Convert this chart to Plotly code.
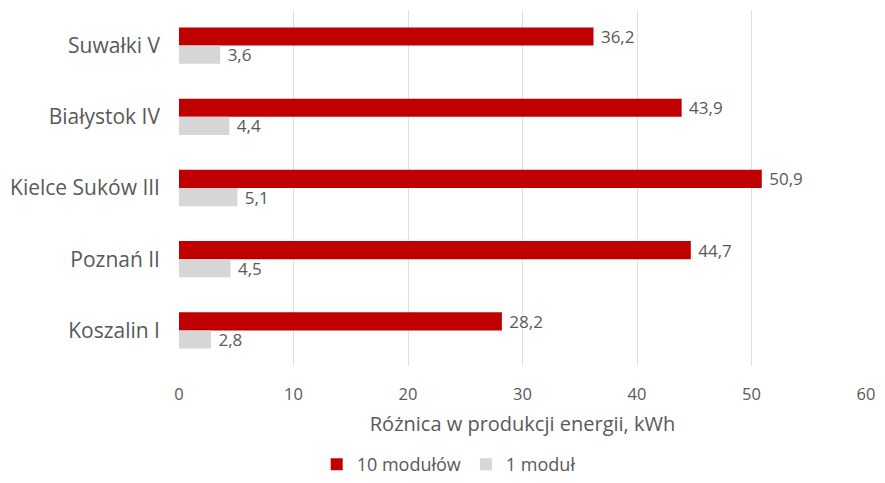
import plotly.graph_objects as go

categories = ["Suwałki V", "Białystok IV", "Kielce Suków III", "Poznań II", "Koszalin I"]
vals_10 = [36.2, 43.9, 50.9, 44.7, 28.2]
vals_1 = [3.6, 4.4, 5.1, 4.5, 2.8]
series_names = ["10 modułów", "1 moduł"]
x_title = "Różnica w produkcji energii, kWh"

FONT = "Open Sans"
TXT = "#595959"

def fmt(v):
    return "\u00a0" + f"{v:.1f}".replace(".", ",")

fig = go.Figure()
fig.add_trace(go.Bar(
    y=categories, x=vals_10, orientation="h", name=series_names[0],
    marker=dict(color="#C00000", line=dict(width=0)),
    text=[fmt(v) for v in vals_10], textposition="outside", constraintext="none",
    textfont=dict(family=FONT, size=17, color=TXT), cliponaxis=False,
))
fig.add_trace(go.Bar(
    y=categories, x=vals_1, orientation="h", name=series_names[1],
    marker=dict(color="#D6D6D6", line=dict(width=0)),
    text=[fmt(v) for v in vals_1], textposition="outside", constraintext="none",
    textfont=dict(family=FONT, size=17, color=TXT), cliponaxis=False,
))

fig.update_layout(
    width=885, height=483,
    margin=dict(l=178, r=17, t=10, b=117),
    paper_bgcolor="white", plot_bgcolor="white",
    barmode="group", bargap=0.49, bargroupgap=0.0,
    font=dict(family=FONT, color=TXT),
    showlegend=True,
    legend=dict(orientation="h", xref="container", yref="container",
                x=0.507, xanchor="center", y=0.0, yanchor="bottom",
                font=dict(family=FONT, size=18, color=TXT),
                itemwidth=30, traceorder="normal"),
    xaxis=dict(range=[0, 60], dtick=10, showgrid=True, gridcolor="#E0E0E0",
               gridwidth=1, zeroline=False, showline=False,
               tickfont=dict(family=FONT, size=16.5, color=TXT), ticks="",
               ticklabelstandoff=16,
               title=dict(text=x_title, font=dict(family=FONT, size=20, color=TXT), standoff=13)),
    yaxis=dict(autorange="reversed", showgrid=False, showline=False, zeroline=False,
               ticks="", ticklabelstandoff=18,
               tickfont=dict(family=FONT, size=21, color=TXT)),
)

fig.write_html("out.html")
